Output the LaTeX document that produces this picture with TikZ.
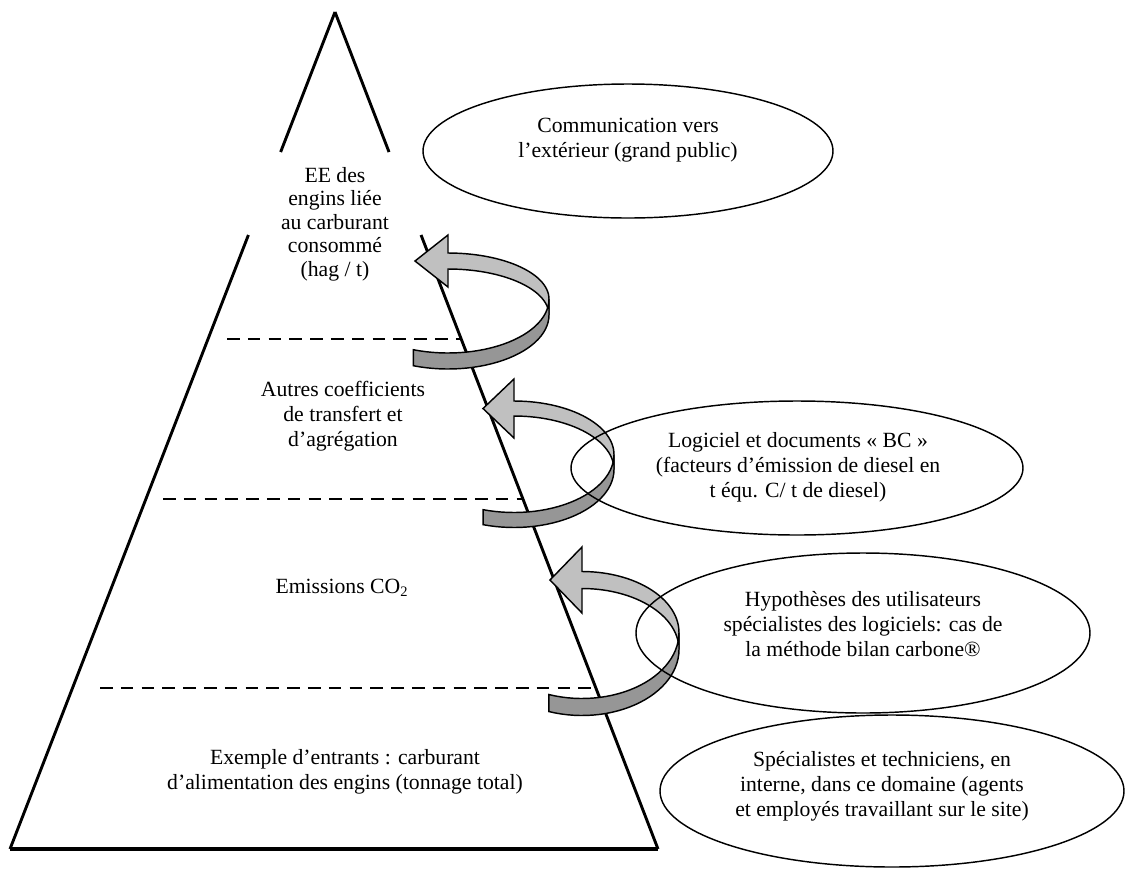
\documentclass[tikz,border=0pt]{standalone}
\usepackage{fontspec}
\setmainfont{Liberation Serif}
\usetikzlibrary{calc}
\definecolor{arrowlight}{RGB}{192,192,192}
\definecolor{arrowdark}{RGB}{150,150,150}
\tikzset{
  txt/.style={align=center, font=\fontsize{12}{13.8}\selectfont, inner sep=0pt},
  bubble/.style={line width=0.8pt},
  pyrside/.style={line width=1.6pt},
  divline/.style={line width=1.6pt, dash pattern=on 7pt off 4.5pt},
}
% 曲がった矢印: 中心x, 中心y, 横半径, 上の縦半径, 下の縦半径, 帯の半幅, 矢じりの長さ, 矢じりの半幅, 尾の角度
\newcommand{\curvarrow}[9]{%
  \filldraw[arrowlight, draw=black, line width=0.8pt]
    plot[domain=90:0, samples=30, variable=\t] ({#1+#3*cos(\t)}, {#2-#4*sin(\t)-#6})
    -- plot[domain=0:90, samples=30, variable=\t] ({#1+#3*cos(\t)}, {#2-#4*sin(\t)+#6})
    -- (#1, #2-#4+#8) -- (#1-#7, #2-#4) -- (#1, #2-#4-#8) -- cycle;
  \filldraw[arrowdark, draw=black, line width=0.8pt]
    plot[domain=0:-#9, samples=30, variable=\t] ({#1+#3*cos(\t)}, {#2-#5*sin(\t)-#6})
    -- plot[domain=-#9:0, samples=30, variable=\t] ({#1+#3*cos(\t)}, {#2-#5*sin(\t)+#6})
    -- cycle;
}
\begin{document}
\begin{tikzpicture}[x=0.553pt, y=-0.553pt]
  \useasboundingbox (0,0) rectangle (1127,868);

  % ピラミッドの頂点
  \coordinate (A) at (335,12);
  \coordinate (BL) at (10,849);
  \coordinate (BR) at (658,849);

  % 左右の辺（上の文字のところで途切れる）
  \draw[pyrside] (A) -- ($(A)!0.1673!(BL)$);
  \draw[pyrside] ($(A)!0.2664!(BL)$) -- (BL);
  \draw[pyrside] (A) -- ($(A)!0.1673!(BR)$);
  \draw[pyrside] ($(A)!0.2664!(BR)$) -- (BR);
  \draw[line width=2.2pt] (BL) -- (BR);

  % 段の区切り（破線）
  \foreach \y/\xa/\xb in {339/227/461, 499/163/523, 688/100/596} {
    \draw[divline] (\xa,\y) -- (\xb,\y);
  }

  % 曲がった矢印
  \foreach \cx/\cy/\ra/\rb/\rc/\hb/\hl/\hw/\ta in
    {448/307/101/46/54/8/33/26/110, 514/462/100/53.5/58/7.5/31/29.5/108, 582/641/97/61/66/8.5/32/33/110} {
    \curvarrow{\cx}{\cy}{\ra}{\rb}{\rc}{\hb}{\hl}{\hw}{\ta}
  }

  % ピラミッドの中の文字
  \node[txt, font=\fontsize{12}{13}\selectfont] (ee) at (335,224)
    {EE des\\engins liée\\au carburant\\consommé\\(hag / t)};
  \node[txt] (autres) at (343,416) {Autres coefficients\\de transfert et\\d’agrégation};
  \node[txt] (emis) at (342,588) {Emissions CO\textsubscript{2}};
  \node[txt] (entrants) at (345,772)
    {Exemple d’entrants : carburant\\d’alimentation des engins (tonnage total)};

  % 楕円と文字
  \draw[bubble] (628,151) ellipse (205 and 67);
  \node[txt] (comm) at (628,140) {Communication vers\\l’extérieur (grand public)};
  \draw[bubble] (797,468) ellipse (226 and 67);
  \node[txt] (logi) at (798,467)
    {Logiciel et documents « BC »\\(facteurs d’émission de diesel en\\t équ. C/ t de diesel)};
  \draw[bubble] (863,633) ellipse (227 and 80);
  \node[txt] (hyp) at (863,624)
    {Hypothèses des utilisateurs\\spécialistes des logiciels: cas de\\la méthode bilan carbone®};
  \draw[bubble] (892,791) ellipse (232 and 76);
  \node[txt] (spec) at (882,786)
    {Spécialistes et techniciens, en\\interne, dans ce domaine (agents\\et employés travaillant sur le site)};

\end{tikzpicture}
\end{document}
